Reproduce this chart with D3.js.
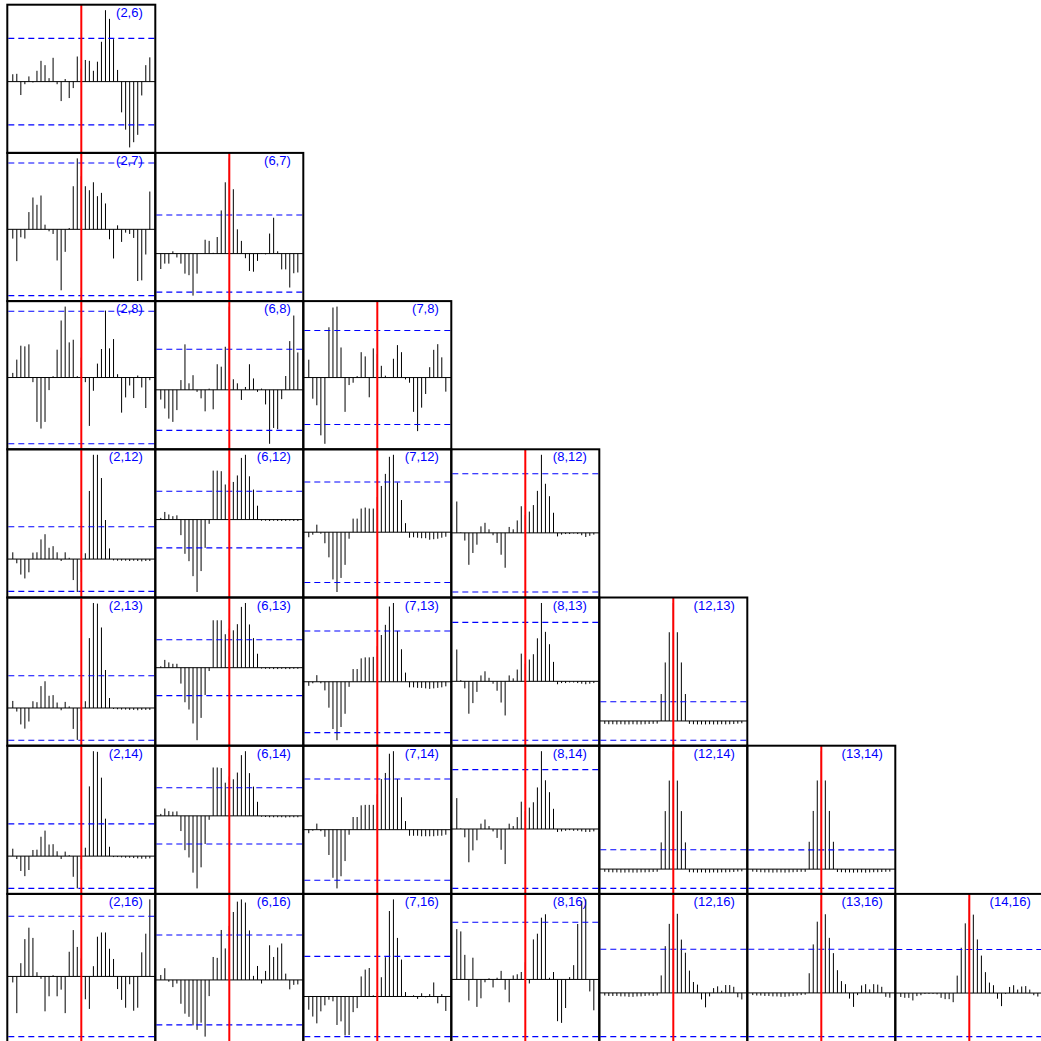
<!DOCTYPE html>
<html>
<head>
<meta charset="utf-8">
<script src="https://cdn.jsdelivr.net/npm/d3@7"></script>
<style>
  html, body { margin: 0; padding: 0; background: #ffffff; }
  svg { display: block; }
</style>
</head>
<body>
<svg id="chart" width="1041" height="1041"></svg>
<script>
// Pairwise cross-correlation matrix: series in columns against series in rows.
const colIds = [2, 6, 7, 8, 12, 13, 14];
const rowIds = [6, 7, 8, 12, 13, 14, 16];
const lags = d3.range(-17, 18);        // -17 .. 17
const confBound = 0.1;                 // approximate 95% band

// One array per pair, indexed by lag -17 .. 17
const ccf_2_6  = [0.017, 0.018, -0.031, -0.006, 0.012, -0.002, 0.025, 0.048, 0.038, 0.008, 0.055, -0.006, -0.045, 0.006, -0.038, -0.015, 0.058,
                  0.030,
                  0.050, 0.048, 0.025, 0.046, 0.092, 0.165, 0.145, 0.098, 0.027, -0.071, -0.111, -0.152, -0.140, -0.123, -0.032, 0.038, 0.056];
const ccf_2_7  = [-0.014, -0.048, -0.012, -0.014, 0.026, 0.048, 0.037, 0.051, 0.007, -0.003, -0.007, -0.047, -0.092, -0.034, 0.002, 0.065, 0.107,
                  0.080,
                  0.065, 0.059, 0.071, 0.050, 0.055, 0.039, -0.015, -0.044, 0.006, -0.019, -0.005, -0.007, -0.013, -0.078, -0.077, -0.038, 0.057];
const ccf_6_7  = [-0.040, -0.026, -0.026, 0.006, -0.010, -0.026, -0.052, -0.056, -0.109, -0.052, 0.001, 0.036, 0.033, 0.002, 0.043, 0.112, 0.185,
                  0.247,
                  0.167, 0.063, 0.033, -0.012, -0.045, -0.047, -0.019, 0.001, -0.002, 0.052, 0.093, 0.006, -0.041, -0.041, -0.088, -0.051, -0.049];
const ccf_2_8  = [0.007, 0.027, 0.048, 0.047, 0.050, -0.007, -0.067, -0.077, -0.067, -0.019, 0.002, 0.042, 0.086, 0.107, 0.053, 0.057, 0.002,
                  0.030,
                  -0.007, -0.073, -0.020, 0.021, 0.043, 0.101, 0.044, 0.058, 0.005, -0.053, -0.030, -0.012, -0.031, 0.003, -0.015, -0.046, -0.004];
const ccf_6_8  = [-0.024, -0.046, -0.071, -0.079, -0.050, 0.024, 0.112, 0.016, 0.036, -0.005, -0.021, -0.053, 0.003, -0.048, 0.063, 0.057, 0.106,
                  0.205,
                  0.026, 0.016, -0.025, 0.007, 0.063, 0.028, -0.005, 0.003, -0.036, -0.133, -0.094, -0.097, -0.023, 0.034, 0.120, 0.183, 0.092];
const ccf_7_8  = [0.038, -0.045, -0.059, -0.123, -0.141, 0.107, 0.149, 0.151, 0.064, -0.073, -0.016, -0.011, 0.003, 0.054, 0.045, -0.042, 0.062,
                  0.050,
                  0.025, 0.004, 0.001, 0.040, 0.069, 0.054, -0.004, -0.011, -0.073, -0.114, -0.064, -0.035, 0.022, 0.059, 0.071, 0.043, -0.030];
const ccf_2_12 = [0.021, -0.013, -0.048, -0.060, -0.041, 0.020, 0.021, 0.061, 0.077, 0.035, 0.040, 0.021, -0.006, 0.021, 0.004, -0.065, -0.102,
                  -0.040,
                  0.018, 0.211, 0.323, 0.323, 0.251, 0.121, 0.033, -0.004, -0.005, -0.005, -0.005, -0.006, -0.005, -0.006, -0.007, -0.006, -0.006];
const ccf_2_13 = [0.022, -0.011, -0.051, -0.064, -0.042, 0.021, 0.018, 0.068, 0.083, 0.038, 0.040, 0.017, -0.007, 0.019, 0.005, -0.065, -0.099,
                  -0.040,
                  0.021, 0.217, 0.326, 0.324, 0.250, 0.118, 0.031, -0.003, -0.004, -0.005, -0.005, -0.006, -0.006, -0.007, -0.006, -0.006, -0.006];
const ccf_2_14 = [0.023, -0.009, -0.046, -0.062, -0.043, 0.019, 0.020, 0.060, 0.079, 0.036, 0.037, 0.015, -0.009, 0.014, 0.003, -0.064, -0.100,
                  -0.040,
                  0.026, 0.216, 0.325, 0.323, 0.243, 0.116, 0.029, -0.003, -0.003, -0.004, -0.005, -0.005, -0.006, -0.007, -0.008, -0.008, -0.007];
const ccf_6_12 = [0.006, 0.027, 0.018, 0.012, 0.015, -0.055, -0.121, -0.147, -0.200, -0.256, -0.182, -0.100, -0.015, 0.173, 0.173, 0.171, 0.124,
                  0.140,
                  0.133, 0.156, 0.218, 0.229, 0.153, 0.106, 0.049, -0.004, -0.004, -0.005, -0.004, -0.005, -0.005, -0.005, -0.004, -0.005, -0.005];
const ccf_6_13 = [0.005, 0.028, 0.019, 0.014, 0.014, -0.057, -0.124, -0.150, -0.200, -0.260, -0.180, -0.098, -0.012, 0.170, 0.170, 0.170, 0.120,
                  0.140,
                  0.134, 0.156, 0.218, 0.232, 0.155, 0.106, 0.050, -0.003, -0.004, -0.004, -0.005, -0.005, -0.004, -0.005, -0.005, -0.004, -0.004];
const ccf_6_14 = [0.007, 0.026, 0.017, 0.015, 0.016, -0.054, -0.122, -0.148, -0.202, -0.258, -0.183, -0.100, -0.014, 0.172, 0.172, 0.170, 0.118,
                  0.140,
                  0.130, 0.154, 0.216, 0.230, 0.152, 0.104, 0.050, -0.003, -0.004, -0.005, -0.005, -0.005, -0.005, -0.006, -0.005, -0.005, -0.005];
const ccf_7_12 = [-0.010, -0.005, 0.015, -0.003, -0.022, -0.050, -0.094, -0.119, -0.091, -0.065, -0.013, 0.027, 0.027, 0.047, 0.049, 0.047, 0.047,
                  0.070,
                  0.092, 0.116, 0.150, 0.154, 0.099, 0.064, 0.018, -0.011, -0.010, -0.011, -0.012, -0.012, -0.015, -0.014, -0.013, -0.011, -0.009];
const ccf_7_13 = [-0.008, -0.003, 0.013, -0.003, -0.017, -0.051, -0.093, -0.115, -0.089, -0.063, -0.010, 0.025, 0.025, 0.046, 0.048, 0.048, 0.049,
                  0.070,
                  0.092, 0.112, 0.148, 0.155, 0.100, 0.064, 0.018, -0.011, -0.011, -0.012, -0.012, -0.013, -0.014, -0.013, -0.012, -0.011, -0.009];
const ccf_7_14 = [-0.007, -0.002, 0.012, -0.003, -0.014, -0.050, -0.095, -0.116, -0.092, -0.062, -0.010, 0.025, 0.025, 0.048, 0.049, 0.049, 0.049,
                  0.070,
                  0.100, 0.112, 0.150, 0.155, 0.100, 0.064, 0.017, -0.012, -0.012, -0.012, -0.013, -0.013, -0.013, -0.013, -0.012, -0.012, -0.010];
const ccf_8_12 = [0.053, 0.001, -0.013, -0.054, -0.034, -0.020, 0.011, 0.017, 0.006, -0.004, -0.017, -0.037, -0.059, 0.010, 0.006, 0.021, 0.045,
                  0.030,
                  0.036, 0.047, 0.071, 0.132, 0.083, 0.062, 0.034, -0.006, -0.003, -0.002, -0.002, -0.001, -0.002, -0.004, -0.007, -0.005, -0.003];
const ccf_8_13 = [0.054, 0.002, -0.012, -0.055, -0.037, -0.018, 0.010, 0.017, 0.006, -0.004, -0.016, -0.036, -0.058, 0.010, 0.005, 0.020, 0.047,
                  0.030,
                  0.037, 0.046, 0.073, 0.133, 0.084, 0.063, 0.033, -0.005, -0.003, -0.003, -0.002, -0.002, -0.003, -0.004, -0.005, -0.004, -0.003];
const ccf_8_14 = [0.052, 0.001, -0.014, -0.056, -0.036, -0.019, 0.009, 0.016, 0.005, -0.004, -0.015, -0.035, -0.059, 0.009, 0.005, 0.020, 0.046,
                  0.030,
                  0.036, 0.045, 0.070, 0.131, 0.082, 0.062, 0.034, -0.005, -0.004, -0.003, -0.002, -0.003, -0.003, -0.004, -0.005, -0.005, -0.004];
const ccf_12_13 = [-0.015, -0.017, -0.017, -0.018, -0.017, -0.018, -0.018, -0.017, -0.018, -0.018, -0.017, -0.016, -0.015, -0.014, 0.140, 0.304, 0.461,
                   0.613,
                   0.461, 0.304, 0.140, -0.015, -0.017, -0.018, -0.018, -0.018, -0.017, -0.018, -0.018, -0.017, -0.018, -0.017, -0.016, -0.014, -0.012];
const ccf_12_14 = [-0.014, -0.016, -0.017, -0.017, -0.018, -0.018, -0.017, -0.018, -0.018, -0.017, -0.017, -0.016, -0.015, -0.014, 0.138, 0.300, 0.458,
                   0.610,
                   0.458, 0.300, 0.138, -0.016, -0.017, -0.018, -0.017, -0.018, -0.018, -0.017, -0.018, -0.017, -0.017, -0.016, -0.015, -0.013, -0.012];
const ccf_13_14 = [-0.013, -0.015, -0.016, -0.017, -0.017, -0.018, -0.017, -0.017, -0.018, -0.017, -0.016, -0.015, -0.014, -0.014, 0.142, 0.302, 0.460,
                   0.612,
                   0.460, 0.302, 0.142, -0.015, -0.016, -0.017, -0.017, -0.018, -0.017, -0.017, -0.018, -0.017, -0.016, -0.016, -0.015, -0.014, -0.013];
const ccf_2_16 = [-0.010, -0.061, 0.022, 0.062, 0.081, 0.064, 0.007, -0.004, -0.058, -0.033, 0.002, -0.033, -0.022, -0.061, 0.041, 0.077, 0.049,
                  0.030,
                  -0.038, -0.054, 0.017, 0.066, 0.073, 0.073, 0.046, 0.029, -0.021, -0.039, -0.052, -0.013, -0.057, -0.052, 0.040, 0.071, 0.128];
const ccf_6_16 = [0.011, 0.026, -0.004, -0.016, -0.008, -0.053, -0.075, -0.082, -0.101, -0.111, -0.095, -0.126, -0.036, 0.051, 0.049, 0.111, 0.070,
                  0.120,
                  0.151, 0.174, 0.179, 0.172, 0.110, 0.009, 0.031, -0.008, 0.020, 0.077, 0.051, 0.072, 0.081, 0.014, -0.021, -0.011, -0.010];
const ccf_7_16 = [-0.033, -0.050, -0.067, -0.037, -0.022, -0.008, -0.012, -0.071, -0.062, -0.097, -0.096, -0.039, -0.029, 0.050, 0.067, 0.071, 0.003,
                  0.010,
                  0.048, 0.098, 0.213, 0.242, 0.146, 0.092, 0.011, 0.000, 0.003, -0.006, 0.008, -0.002, 0.006, 0.035, -0.017, 0.006, -0.036];
const ccf_8_16 = [0.088, 0.084, 0.043, -0.037, 0.038, -0.048, -0.033, -0.005, 0.002, -0.014, 0.003, 0.015, -0.018, -0.040, 0.007, 0.009, 0.013,
                  0.030,
                  -0.007, 0.070, 0.080, 0.108, 0.114, 0.003, 0.013, -0.073, -0.076, -0.050, 0.004, 0.025, 0.097, 0.137, 0.140, -0.021, -0.054];
const ccf_12_16 = [-0.006, -0.007, -0.007, -0.007, -0.008, -0.008, -0.009, -0.009, -0.008, -0.008, -0.007, -0.006, -0.007, -0.006, 0.040, 0.107, 0.158,
                   0.214,
                   0.181, 0.122, 0.092, 0.051, 0.025, 0.019, -0.015, -0.033, -0.008, 0.011, 0.015, 0.005, 0.018, 0.018, 0.014, -0.010, -0.015];
const ccf_13_16 = [-0.005, -0.006, -0.006, -0.007, -0.007, -0.008, -0.008, -0.009, -0.009, -0.008, -0.007, -0.006, -0.005, -0.004, 0.045, 0.111, 0.163,
                   0.214,
                   0.180, 0.126, 0.091, 0.052, 0.027, 0.020, -0.013, -0.032, -0.005, 0.017, 0.020, 0.008, 0.020, 0.019, 0.014, -0.009, -0.011];
const ccf_14_16 = [-0.009, -0.011, -0.011, -0.017, -0.007, -0.005, -0.002, -0.002, -0.002, -0.003, -0.011, -0.014, -0.014, -0.021, 0.040, 0.104, 0.160,
                   0.215,
                   0.180, 0.123, 0.086, 0.048, 0.024, 0.018, -0.013, -0.030, -0.002, 0.014, 0.018, 0.008, 0.015, 0.016, 0.008, -0.005, -0.008];

const panels = [
  { a: 2,  b: 6,  values: ccf_2_6 },
  { a: 2,  b: 7,  values: ccf_2_7 },  { a: 6,  b: 7,  values: ccf_6_7 },
  { a: 2,  b: 8,  values: ccf_2_8 },  { a: 6,  b: 8,  values: ccf_6_8 },  { a: 7,  b: 8,  values: ccf_7_8 },
  { a: 2,  b: 12, values: ccf_2_12 }, { a: 6,  b: 12, values: ccf_6_12 }, { a: 7,  b: 12, values: ccf_7_12 },
  { a: 8,  b: 12, values: ccf_8_12 },
  { a: 2,  b: 13, values: ccf_2_13 }, { a: 6,  b: 13, values: ccf_6_13 }, { a: 7,  b: 13, values: ccf_7_13 },
  { a: 8,  b: 13, values: ccf_8_13 }, { a: 12, b: 13, values: ccf_12_13 },
  { a: 2,  b: 14, values: ccf_2_14 }, { a: 6,  b: 14, values: ccf_6_14 }, { a: 7,  b: 14, values: ccf_7_14 },
  { a: 8,  b: 14, values: ccf_8_14 }, { a: 12, b: 14, values: ccf_12_14 }, { a: 13, b: 14, values: ccf_13_14 },
  { a: 2,  b: 16, values: ccf_2_16 }, { a: 6,  b: 16, values: ccf_6_16 }, { a: 7,  b: 16, values: ccf_7_16 },
  { a: 8,  b: 16, values: ccf_8_16 }, { a: 12, b: 16, values: ccf_12_16 }, { a: 13, b: 16, values: ccf_13_16 },
  { a: 14, b: 16, values: ccf_14_16 }
];

// Grid geometry
const gridX0 = 7.3, gridY0 = 4.7, cellW = 148, cellH = 148.2;

const svg = d3.select("#chart");

function padded(lo, hi) {
  const p = (hi - lo) * 0.04;
  return [lo - p, hi + p];
}

panels.forEach(p => {
  const ci = colIds.indexOf(p.a);
  const ri = rowIds.indexOf(p.b);
  const x0 = gridX0 + ci * cellW;
  const y0 = gridY0 + ri * cellH;

  const x = d3.scaleLinear()
    .domain(padded(d3.min(lags), d3.max(lags)))
    .range([x0, x0 + cellW]);

  const lo = Math.min(d3.min(p.values), -confBound);
  const hi = Math.max(d3.max(p.values), confBound);
  const y = d3.scaleLinear()
    .domain(padded(lo, hi))
    .range([y0 + cellH, y0]);

  const g = svg.append("g").attr("class", `panel p${p.a}-${p.b}`);

  // correlation spikes
  g.selectAll("line.spike")
    .data(lags.map((lag, i) => ({ lag, v: p.values[i] })))
    .join("line")
    .attr("class", "spike")
    .attr("x1", d => x(d.lag)).attr("x2", d => x(d.lag))
    .attr("y1", y(0)).attr("y2", d => y(d.v))
    .attr("stroke", "#000").attr("stroke-width", 1);

  // zero line
  g.append("line")
    .attr("x1", x0).attr("x2", x0 + cellW)
    .attr("y1", y(0)).attr("y2", y(0))
    .attr("stroke", "#000").attr("stroke-width", 1);

  // significance band
  [confBound, -confBound].forEach(b => {
    g.append("line")
      .attr("x1", x0 + 1).attr("x2", x0 + cellW - 1)
      .attr("y1", y(b)).attr("y2", y(b))
      .attr("stroke", "#0000ff").attr("stroke-width", 1.1)
      .attr("stroke-dasharray", "6,4");
  });

  // lag zero marker
  g.append("line")
    .attr("x1", x(0)).attr("x2", x(0))
    .attr("y1", y0).attr("y2", y0 + cellH)
    .attr("stroke", "#ff0000").attr("stroke-width", 2);

  // frame
  g.append("rect")
    .attr("x", x0).attr("y", y0)
    .attr("width", cellW).attr("height", cellH)
    .attr("fill", "none").attr("stroke", "#000").attr("stroke-width", 2);

  // pair label
  g.append("text")
    .attr("x", x0 + cellW - 12.5)
    .attr("y", y0 + 12)
    .attr("text-anchor", "end")
    .attr("font-family", "'Liberation Sans', Arial, Helvetica, sans-serif")
    .attr("font-size", 13)
    .attr("fill", "#0000ff")
    .text(`(${p.a},${p.b})`);
});
</script>
</body>
</html>
